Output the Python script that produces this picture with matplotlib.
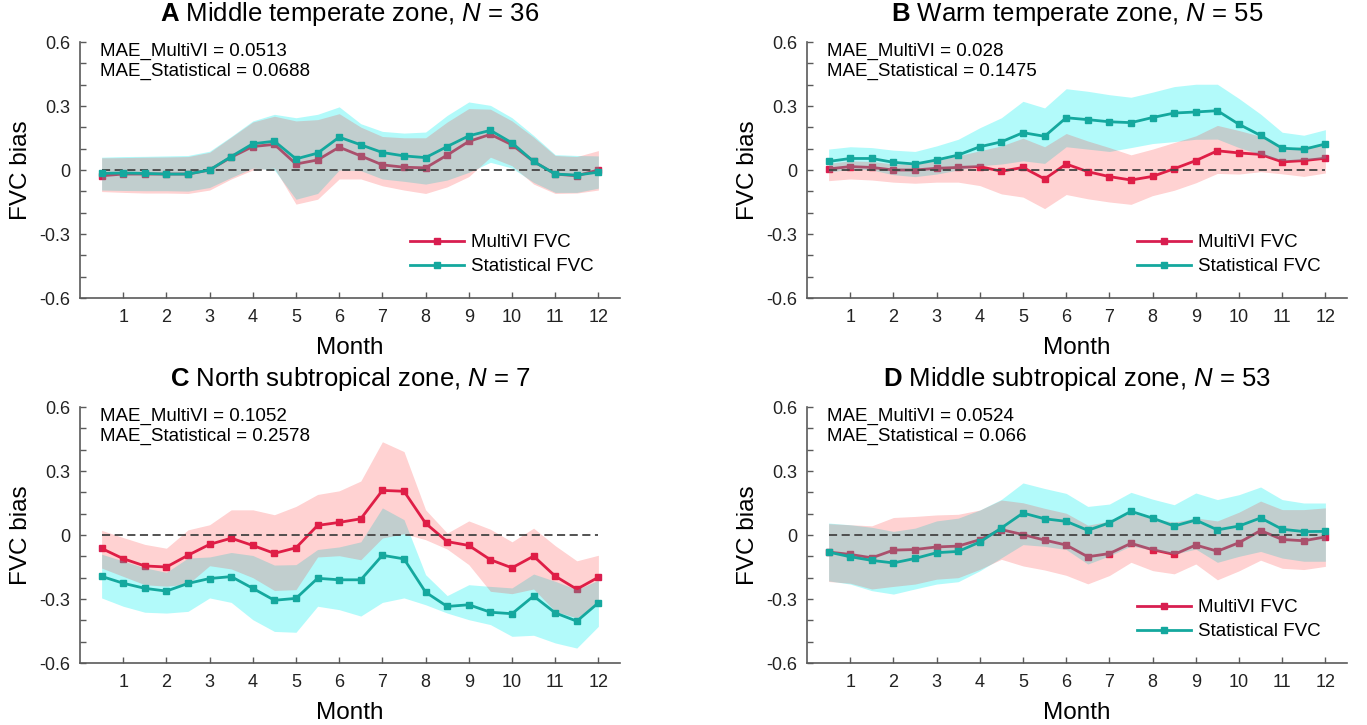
import matplotlib
matplotlib.use('Agg')
import matplotlib.pyplot as plt
import numpy as np

plt.rcParams['font.family'] = 'Liberation Sans'
plt.rcParams['mathtext.fontset'] = 'custom'
plt.rcParams['mathtext.rm'] = 'Liberation Sans'
plt.rcParams['mathtext.it'] = 'Liberation Sans:italic'
plt.rcParams['mathtext.bf'] = 'Liberation Sans:bold'

# half-month steps
months = np.arange(0.5, 12.01, 0.5)

# panel A: middle temperate zone
a_multi = [-0.027, -0.019, -0.019, -0.019, -0.019, 0.0, 0.06, 0.11, 0.12, 0.028, 0.047, 0.107,
           0.066, 0.024, 0.013, 0.01, 0.07, 0.134, 0.167, 0.118, 0.04, -0.019, -0.027, 0.0]
a_stat = [-0.016, -0.014, -0.016, -0.019, -0.019, 0.0, 0.063, 0.123, 0.135, 0.052, 0.079, 0.154,
          0.118, 0.082, 0.066, 0.058, 0.11, 0.16, 0.186, 0.127, 0.04, -0.019, -0.024, -0.01]
a_multi_hi = [0.057, 0.058, 0.060, 0.061, 0.063, 0.083, 0.154, 0.225, 0.252, 0.230, 0.236, 0.264,
              0.201, 0.157, 0.151, 0.151, 0.225, 0.288, 0.285, 0.230, 0.154, 0.068, 0.063, 0.091]
a_multi_lo = [-0.101, -0.105, -0.108, -0.108, -0.110, -0.094, -0.042, 0.0, 0.009, -0.160, -0.137, -0.042,
              -0.042, -0.074, -0.094, -0.110, -0.079, -0.031, 0.060, 0.020, -0.066, -0.110, -0.108, -0.094]
a_stat_hi = [0.060, 0.063, 0.064, 0.066, 0.068, 0.088, 0.157, 0.230, 0.261, 0.245, 0.261, 0.296,
             0.217, 0.181, 0.173, 0.178, 0.256, 0.319, 0.303, 0.245, 0.162, 0.072, 0.068, 0.066]
a_stat_lo = [-0.094, -0.096, -0.097, -0.097, -0.099, -0.082, -0.035, 0.009, 0.0, -0.137, -0.110, 0.0,
             -0.003, -0.042, -0.053, -0.066, -0.047, -0.011, 0.036, 0.009, -0.058, -0.105, -0.105, -0.085]

# panel B: warm temperate zone
b_multi = [0.005, 0.016, 0.012, 0.0, 0.0, 0.008, 0.012, 0.016, -0.006, 0.012, -0.042, 0.028,
           -0.008, -0.031, -0.047, -0.030, 0.006, 0.044, 0.090, 0.080, 0.073, 0.038, 0.044, 0.055]
b_stat = [0.040, 0.054, 0.054, 0.036, 0.028, 0.047, 0.070, 0.109, 0.132, 0.175, 0.158, 0.245,
          0.236, 0.226, 0.222, 0.246, 0.267, 0.272, 0.278, 0.214, 0.162, 0.102, 0.097, 0.122]
b_multi_hi = [0.031, 0.043, 0.040, 0.028, 0.028, 0.043, 0.067, 0.090, 0.113, 0.149, 0.109, 0.171,
              0.136, 0.105, 0.071, 0.098, 0.129, 0.160, 0.209, 0.185, 0.158, 0.100, 0.111, 0.119]
b_multi_lo = [-0.050, -0.042, -0.047, -0.057, -0.062, -0.057, -0.057, -0.073, -0.112, -0.127, -0.181, -0.115,
              -0.135, -0.150, -0.161, -0.120, -0.095, -0.060, -0.016, -0.019, -0.008, -0.018, -0.030, -0.014]
b_stat_hi = [0.098, 0.109, 0.105, 0.093, 0.087, 0.113, 0.144, 0.198, 0.245, 0.322, 0.291, 0.381,
             0.369, 0.353, 0.341, 0.365, 0.391, 0.402, 0.402, 0.335, 0.262, 0.177, 0.163, 0.189]
b_stat_lo = [-0.011, 0.005, 0.0, -0.022, -0.031, -0.019, 0.0, 0.020, 0.028, 0.043, 0.031, 0.109,
             0.098, 0.087, 0.105, 0.124, 0.133, 0.144, 0.145, 0.105, 0.073, 0.045, 0.048, 0.056]

# panel C: north subtropical zone
c_multi = [-0.063, -0.111, -0.145, -0.150, -0.095, -0.044, -0.015, -0.049, -0.086, -0.060, 0.045, 0.059,
           0.076, 0.209, 0.205, 0.055, -0.031, -0.049, -0.116, -0.154, -0.099, -0.193, -0.254, -0.198]
c_stat = [-0.194, -0.226, -0.250, -0.263, -0.227, -0.204, -0.195, -0.250, -0.306, -0.297, -0.203, -0.210,
          -0.210, -0.095, -0.112, -0.268, -0.335, -0.327, -0.362, -0.369, -0.286, -0.365, -0.404, -0.318]
c_multi_hi = [0.022, -0.012, -0.044, -0.062, 0.024, 0.048, 0.118, 0.118, 0.095, 0.134, 0.190, 0.207,
              0.253, 0.437, 0.391, 0.118, 0.009, 0.066, 0.027, -0.032, 0.032, -0.050, -0.121, -0.095]
c_multi_lo = [-0.155, -0.194, -0.233, -0.240, -0.230, -0.144, -0.159, -0.200, -0.260, -0.256, -0.103, -0.097,
              -0.116, -0.014, 0.006, -0.022, -0.066, -0.139, -0.264, -0.275, -0.253, -0.358, -0.389, -0.319]
c_stat_hi = [-0.090, -0.122, -0.154, -0.175, -0.108, -0.103, -0.082, -0.096, -0.141, -0.139, -0.068, -0.056,
             -0.032, 0.127, 0.072, -0.186, -0.284, -0.233, -0.241, -0.248, -0.183, -0.217, -0.256, -0.212]
c_stat_lo = [-0.295, -0.334, -0.362, -0.366, -0.358, -0.295, -0.316, -0.397, -0.452, -0.456, -0.334, -0.350,
             -0.380, -0.316, -0.295, -0.327, -0.366, -0.397, -0.420, -0.475, -0.470, -0.506, -0.530, -0.428]

# panel D: middle subtropical zone
d_multi = [-0.080, -0.091, -0.107, -0.071, -0.068, -0.056, -0.052, -0.022, 0.025, 0.002, -0.024, -0.047,
           -0.102, -0.087, -0.039, -0.069, -0.091, -0.047, -0.076, -0.036, 0.021, -0.021, -0.027, -0.009]
d_stat = [-0.080, -0.102, -0.119, -0.131, -0.110, -0.083, -0.077, -0.033, 0.033, 0.103, 0.076, 0.064,
          0.022, 0.057, 0.111, 0.079, 0.042, 0.070, 0.024, 0.042, 0.080, 0.027, 0.016, 0.017]
d_multi_hi = [0.053, 0.048, 0.043, 0.082, 0.087, 0.094, 0.097, 0.117, 0.164, 0.151, 0.125, 0.102,
              0.046, 0.065, 0.104, 0.077, 0.060, 0.080, 0.066, 0.107, 0.159, 0.119, 0.119, 0.127]
d_multi_lo = [-0.218, -0.226, -0.253, -0.241, -0.230, -0.207, -0.200, -0.161, -0.114, -0.145, -0.164, -0.189,
              -0.229, -0.190, -0.128, -0.167, -0.182, -0.136, -0.210, -0.168, -0.118, -0.156, -0.162, -0.147]
d_stat_hi = [0.056, 0.048, 0.036, 0.017, 0.032, 0.066, 0.079, 0.117, 0.167, 0.244, 0.218, 0.195,
             0.134, 0.145, 0.200, 0.168, 0.142, 0.197, 0.166, 0.189, 0.225, 0.166, 0.150, 0.150]
d_stat_lo = [-0.215, -0.230, -0.261, -0.277, -0.253, -0.230, -0.219, -0.168, -0.107, -0.045, -0.053, -0.068,
             -0.136, -0.098, -0.051, -0.071, -0.090, -0.066, -0.128, -0.100, -0.077, -0.108, -0.123, -0.123]

letters = ['A', 'B', 'C', 'D']
zones = ['Middle temperate zone', 'Warm temperate zone', 'North subtropical zone', 'Middle subtropical zone']
n_sites = [36, 55, 7, 53]
mae_multi = ['0.0513', '0.028', '0.1052', '0.0524']
mae_stat = ['0.0688', '0.1475', '0.2578', '0.066']
show_legend = [True, True, False, True]

panels = [
    (a_multi, a_multi_lo, a_multi_hi, a_stat, a_stat_lo, a_stat_hi),
    (b_multi, b_multi_lo, b_multi_hi, b_stat, b_stat_lo, b_stat_hi),
    (c_multi, c_multi_lo, c_multi_hi, c_stat, c_stat_lo, c_stat_hi),
    (d_multi, d_multi_lo, d_multi_hi, d_stat, d_stat_lo, d_stat_hi),
]

red = '#D81E50'
teal = '#14A89E'
axis_gray = '#5a5a5a'

fig = plt.figure(figsize=(13.67, 7.25), dpi=100)
W, H = 1367, 725
boxes = [(80, 42), (807, 42), (80, 407), (807, 407)]
aw, ah = 540, 256

for i, (m, mlo, mhi, s, slo, shi) in enumerate(panels):
    x0, y0 = boxes[i]
    ax = fig.add_axes([x0 / W, 1 - (y0 + ah) / H, aw / W, ah / H])

    # red line sits under the cyan band, red band goes over both
    ax.plot(months, m, color=red, lw=2, marker='s', ms=5, zorder=1, label='MultiVI FVC')
    ax.fill_between(months, slo, shi, color='#00F0F0', alpha=0.30, lw=0, zorder=2)
    ax.fill_between(months, mlo, mhi, color='#FF1E1E', alpha=0.20, lw=0, zorder=3)
    ax.hlines(0, months[0], months[-1], colors='#444444', linestyles=(0, (4.5, 2.5)), lw=1.3, zorder=3.5)
    ax.plot(months, s, color=teal, lw=2, marker='s', ms=5, zorder=4, label='Statistical FVC')

    ax.set_xlim(0, 12.5)
    ax.set_ylim(-0.6, 0.6)
    ax.set_xticks(range(1, 13))
    ax.set_yticks([-0.6, -0.3, 0, 0.3, 0.6])
    ax.set_yticklabels(['-0.6', '-0.3', '0', '0.3', '0.6'])
    ax.set_yticks(np.arange(-0.6, 0.61, 0.1), minor=True)
    ax.tick_params(which='both', direction='in', length=4, width=1, color=axis_gray,
                   labelsize=13, labelcolor='#222222')
    ax.tick_params(axis='x', pad=8)
    ax.tick_params(axis='y', pad=7)
    for side in ['top', 'right']:
        ax.spines[side].set_visible(False)
    for side in ['left', 'bottom']:
        ax.spines[side].set_color(axis_gray)
        ax.spines[side].set_linewidth(1.2)

    ax.set_xlabel('Month', fontsize=17.5, labelpad=8)
    ax.set_ylabel('FVC bias', fontsize=17.5, labelpad=5)
    ax.set_title(r'$\mathbf{%s}$ %s, $\mathit{N}$ = %d' % (letters[i], zones[i], n_sites[i]),
                 fontsize=18.5, pad=15)
    ax.text(0.037, 0.995, 'MAE_MultiVI = %s\nMAE_Statistical = %s' % (mae_multi[i], mae_stat[i]),
            transform=ax.transAxes, ha='left', va='top', fontsize=13.5, linespacing=1.2)

    if show_legend[i]:
        ax.legend(loc='lower right', bbox_to_anchor=(0.965, 0.06), frameon=False, fontsize=13.5,
                  handlelength=2.9, handletextpad=0.35, labelspacing=0.35, borderaxespad=0)

fig.savefig('out.png', dpi=100)
